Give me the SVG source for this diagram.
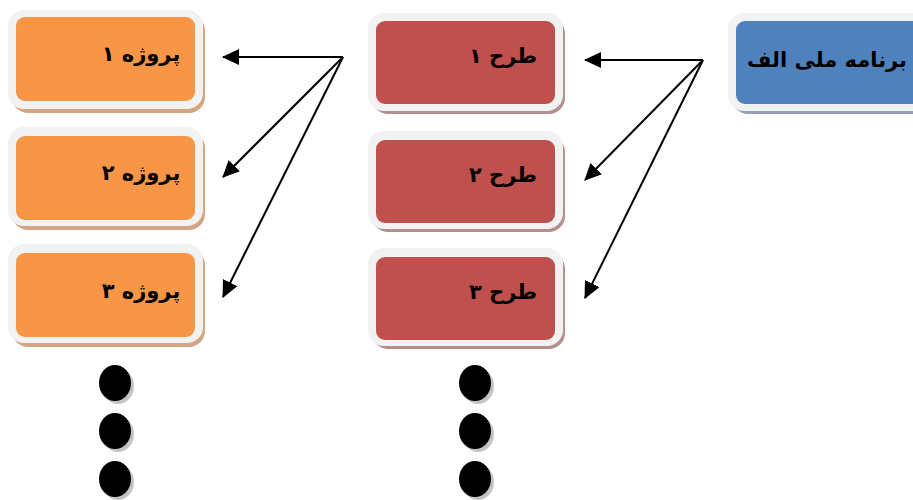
<svg xmlns="http://www.w3.org/2000/svg" width="913" height="500" viewBox="0 0 913 500">
<style>
.frame{fill:#f2f2f2}
.po{fill:#f79646}.ps{fill:#d5a583}
.tr{fill:#c0504d}.ts{fill:#b58f8f}
.bl{fill:#4f81bd}.bs{fill:#94a0b3}
.lbl{font-family:"DejaVu Sans",sans-serif;font-weight:bold;font-size:21px;fill:#000;text-anchor:middle}
.conn{stroke:#000;stroke-width:2;fill:none}
.dot{fill:#000}.dsh{fill:#c4c4c4}
</style>
<defs>
<marker id="ah" viewBox="0 0 17 16" refX="16" refY="8" markerWidth="17" markerHeight="16" markerUnits="userSpaceOnUse" orient="auto">
<path d="M0,0 L17,8 L0,16 z" fill="#000"/>
</marker>
</defs>
<g id="p1"><rect class="ps" x="12" y="15" width="193" height="98" rx="16"/><rect class="frame" x="8" y="10" width="195" height="99" rx="16"/><rect class="po" x="16" y="17" width="179" height="84" rx="9"/><text class="lbl" x="141" y="61">پروژه ۱</text></g>
<g id="p2"><rect class="ps" x="12" y="132" width="193" height="98" rx="16"/><rect class="frame" x="8" y="127" width="195" height="99" rx="16"/><rect class="po" x="16" y="136" width="179" height="84" rx="9"/><text class="lbl" x="141" y="180">پروژه ۲</text></g>
<g id="p3"><rect class="ps" x="12" y="249" width="193" height="98" rx="16"/><rect class="frame" x="8" y="244" width="195" height="99" rx="16"/><rect class="po" x="16" y="253" width="179" height="84" rx="9"/><text class="lbl" x="141" y="298">پروژه ۳</text></g>
<g id="t1"><rect class="ts" x="372" y="18" width="193" height="96" rx="16"/><rect class="frame" x="368" y="13" width="195" height="98" rx="16"/><rect class="tr" x="376" y="21" width="179" height="83" rx="9"/><text class="lbl" x="503" y="63">طرح ۱</text></g>
<g id="t2"><rect class="ts" x="372" y="136" width="193" height="96" rx="16"/><rect class="frame" x="368" y="131" width="195" height="98" rx="16"/><rect class="tr" x="376" y="140" width="179" height="83" rx="9"/><text class="lbl" x="503" y="182">طرح ۲</text></g>
<g id="t3"><rect class="ts" x="372" y="253" width="193" height="96" rx="16"/><rect class="frame" x="368" y="248" width="195" height="98" rx="16"/><rect class="tr" x="376" y="257" width="179" height="83" rx="9"/><text class="lbl" x="503" y="299">طرح ۳</text></g>
<g id="b1"><rect class="bs" x="732" y="18" width="200" height="96" rx="16"/><rect class="frame" x="728" y="13" width="200" height="98" rx="16"/><rect class="bl" x="736" y="21" width="190" height="83" rx="9"/><text class="lbl" x="827" y="67">برنامه ملی الف</text></g>
<g id="connectors">
<line class="conn" x1="343" y1="57" x2="223" y2="57" marker-end="url(#ah)"/>
<line class="conn" x1="343" y1="57" x2="223" y2="177" marker-end="url(#ah)"/>
<line class="conn" x1="343" y1="57" x2="223" y2="297" marker-end="url(#ah)"/>
<line class="conn" x1="703" y1="60" x2="585" y2="60" marker-end="url(#ah)"/>
<line class="conn" x1="703" y1="60" x2="585" y2="180" marker-end="url(#ah)"/>
<line class="conn" x1="703" y1="60" x2="585" y2="298" marker-end="url(#ah)"/>
</g>
<g id="dots">
<ellipse class="dsh" cx="118" cy="386" rx="16" ry="18"/><ellipse class="dot" cx="115" cy="383" rx="16" ry="18"/>
<ellipse class="dsh" cx="118" cy="434" rx="16" ry="18"/><ellipse class="dot" cx="115" cy="431" rx="16" ry="18"/>
<ellipse class="dsh" cx="118" cy="482" rx="16" ry="18"/><ellipse class="dot" cx="115" cy="479" rx="16" ry="18"/>
<ellipse class="dsh" cx="478" cy="386" rx="16" ry="18"/><ellipse class="dot" cx="475" cy="383" rx="16" ry="18"/>
<ellipse class="dsh" cx="478" cy="434" rx="16" ry="18"/><ellipse class="dot" cx="475" cy="431" rx="16" ry="18"/>
<ellipse class="dsh" cx="478" cy="482" rx="16" ry="18"/><ellipse class="dot" cx="475" cy="479" rx="16" ry="18"/>
</g>
</svg>
